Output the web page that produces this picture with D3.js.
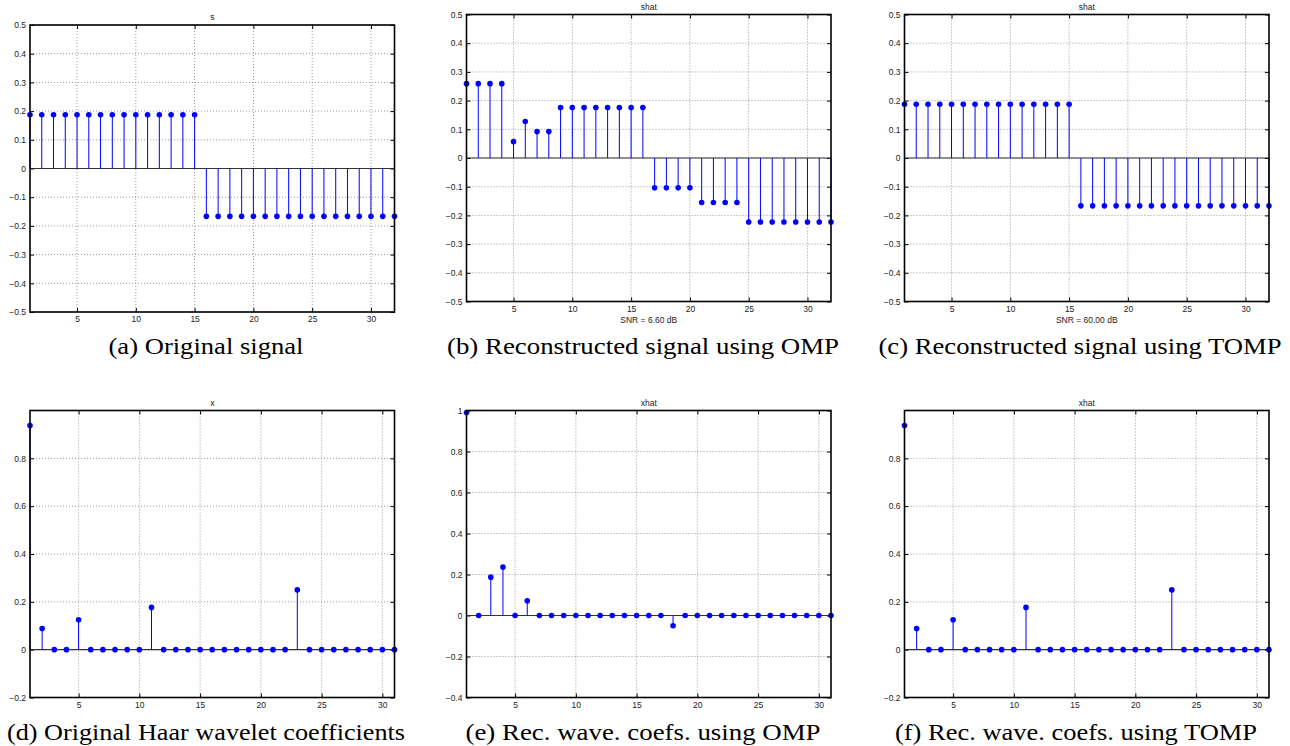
<!DOCTYPE html>
<html>
<head>
<meta charset="utf-8">
<script src="https://cdn.jsdelivr.net/npm/d3@7"></script>
<style>
  body { margin: 0; background: #fff; }
  svg { display: block; }
</style>
</head>
<body>
<div id="fig"></div>
<script>
// values
var sOrig = [0.1875, 0.1875, 0.1875, 0.1875, 0.1875, 0.1875, 0.1875, 0.1875, 0.1875, 0.1875, 0.1875, 0.1875, 0.1875, 0.1875, 0.1875,
    -0.1667, -0.1667, -0.1667, -0.1667, -0.1667, -0.1667, -0.1667, -0.1667, -0.1667, -0.1667, -0.1667, -0.1667, -0.1667, -0.1667, -0.1667, -0.1667, -0.1667];
var shatOMP = [0.259, 0.259, 0.259, 0.259, 0.057, 0.127, 0.092, 0.092,
    0.176, 0.176, 0.176, 0.176, 0.176, 0.176, 0.176, 0.176,
    -0.104, -0.104, -0.104, -0.104, -0.155, -0.155, -0.155, -0.155,
    -0.223, -0.223, -0.223, -0.223, -0.223, -0.223, -0.223, -0.223];
var shatTOMP = [0.1875, 0.1875, 0.1875, 0.1875, 0.1875, 0.1875, 0.1875, 0.1875, 0.1875, 0.1875, 0.1875, 0.1875, 0.1875, 0.1875, 0.1875,
    -0.1667, -0.1667, -0.1667, -0.1667, -0.1667, -0.1667, -0.1667, -0.1667, -0.1667, -0.1667, -0.1667, -0.1667, -0.1667, -0.1667, -0.1667, -0.1667, -0.1667];
var xOrig = [0.9375, 0.0884, 0, 0, 0.125, 0, 0, 0, 0, 0, 0.1768, 0, 0, 0, 0, 0, 0, 0, 0, 0, 0, 0,
    0.25, 0, 0, 0, 0, 0, 0, 0, 0];
var xhatOMP = [0.99, 0, 0.187, 0.236, 0, 0.0715, 0, 0, 0, 0, 0, 0, 0, 0, 0, 0, 0, -0.05,
    0, 0, 0, 0, 0, 0, 0, 0, 0, 0, 0, 0, 0];
var xhatTOMP = [0.9375, 0.0884, 0, 0, 0.125, 0, 0, 0, 0, 0, 0.1768, 0, 0, 0, 0, 0, 0, 0, 0, 0, 0, 0,
    0.25, 0, 0, 0, 0, 0, 0, 0, 0];

var xTicks = [5, 10, 15, 20, 25, 30];
var yTicksSignal = [-0.5, -0.4, -0.3, -0.2, -0.1, 0, 0.1, 0.2, 0.3, 0.4, 0.5];
var yTicksCoef = [-0.2, 0, 0.2, 0.4, 0.6, 0.8];
var yTicksCoefOMP = [-0.4, -0.2, 0, 0.2, 0.4, 0.6, 0.8, 1];

var titles = ["s", "shat", "shat", "x", "xhat", "xhat"];
var xlabels = ["", "SNR = 6.60 dB", "SNR = 60.00 dB", "", "", ""];
var captions = ["(a) Original signal", "(b) Reconstructed signal using OMP", "(c) Reconstructed signal using TOMP",
    "(d) Original Haar wavelet coefficients", "(e) Rec. wave. coefs. using OMP", "(f) Rec. wave. coefs. using TOMP"];

var panels = [
    {data: sOrig, xdom: [1, 32], ydom: [-0.5, 0.5], yticks: yTicksSignal, left: 30, top: 25, cx: 206, cy: 354, cw: 195},
    {data: shatOMP, xdom: [1, 32], ydom: [-0.5, 0.5], yticks: yTicksSignal, left: 466.5, top: 14.5, cx: 643, cy: 354, cw: 392},
    {data: shatTOMP, xdom: [1, 32], ydom: [-0.5, 0.5], yticks: yTicksSignal, left: 904.5, top: 14.5, cx: 1080, cy: 354, cw: 403},
    {data: xOrig, xdom: [1, 31], ydom: [-0.2, 1], yticks: yTicksCoef, left: 30, top: 410.5, cx: 206, cy: 740, cw: 398},
    {data: xhatOMP, xdom: [1, 31], ydom: [-0.4, 1], yticks: yTicksCoefOMP, left: 466.5, top: 410.5, cx: 643, cy: 740, cw: 355},
    {data: xhatTOMP, xdom: [1, 31], ydom: [-0.2, 1], yticks: yTicksCoef, left: 904.5, top: 410.5, cx: 1076, cy: 740, cw: 362}
];
var pw = 364.5, ph = 287;

var svg = d3.select("#fig").append("svg")
    .attr("width", 1290)
    .attr("height", 746);

var fmt = d3.format("~g");

panels.forEach(function (p, i) {
    var x = d3.scaleLinear().domain(p.xdom).range([0, pw]);
    var y = d3.scaleLinear().domain(p.ydom).range([ph, 0]);
    var g = svg.append("g").attr("transform", "translate(" + p.left + "," + p.top + ")");

    // dotted grid
    g.selectAll(".gx").data(xTicks).enter().append("line")
        .attr("x1", function (d) { return x(d); }).attr("x2", function (d) { return x(d); })
        .attr("y1", 0).attr("y2", ph)
        .style("stroke", "#909090").style("stroke-width", 0.9).style("stroke-dasharray", "1,2");
    g.selectAll(".gy").data(p.yticks).enter().append("line")
        .attr("y1", function (d) { return y(d); }).attr("y2", function (d) { return y(d); })
        .attr("x1", 0).attr("x2", pw)
        .style("stroke", "#909090").style("stroke-width", 0.9).style("stroke-dasharray", "1,2");

    // axes, ticks inside like matlab
    var axL = g.append("g").call(d3.axisLeft(y).tickValues(p.yticks).tickSizeInner(-4).tickSizeOuter(0).tickPadding(4).tickFormat(fmt));
    var axR = g.append("g").attr("transform", "translate(" + pw + ",0)")
        .call(d3.axisRight(y).tickValues(p.yticks).tickSizeInner(-4).tickSizeOuter(0).tickFormat(""));
    var axB = g.append("g").attr("transform", "translate(0," + ph + ")")
        .call(d3.axisBottom(x).tickValues(xTicks).tickSizeInner(-4).tickSizeOuter(0).tickPadding(4).tickFormat(fmt));
    var axT = g.append("g")
        .call(d3.axisTop(x).tickValues(xTicks).tickSizeInner(-4).tickSizeOuter(0).tickFormat(""));
    [axL, axR, axB, axT].forEach(function (a) {
        a.select(".domain").remove();
        a.selectAll("line").style("stroke", "#000");
        a.selectAll("text").style("font-family", "'Liberation Sans', Arial, sans-serif")
            .style("font-size", "8.5px").style("fill", "#222");
    });

    // stem baseline
    g.append("line")
        .attr("x1", x(p.xdom[0])).attr("x2", x(p.xdom[1]))
        .attr("y1", y(0)).attr("y2", y(0))
        .style("stroke", "#333").style("stroke-width", 1.2);

    // stems and markers
    g.selectAll(".stem").data(p.data).enter().append("line")
        .attr("x1", function (d, k) { return x(k + 1); })
        .attr("x2", function (d, k) { return x(k + 1); })
        .attr("y1", y(0))
        .attr("y2", function (d) { return y(d); })
        .style("stroke", "#0000ff").style("stroke-width", 1);
    g.selectAll(".dot").data(p.data).enter().append("circle")
        .attr("cx", function (d, k) { return x(k + 1); })
        .attr("cy", function (d) { return y(d); })
        .attr("r", 2.8)
        .style("fill", "#0000ff");

    // box
    g.append("rect").attr("width", pw).attr("height", ph)
        .style("fill", "none").style("stroke", "#000").style("stroke-width", 1.6);

    g.append("text")
        .attr("x", pw / 2).attr("y", -5)
        .attr("text-anchor", "middle")
        .style("font-family", "'Liberation Sans', Arial, sans-serif")
        .style("font-size", "8.5px").style("fill", "#222")
        .text(titles[i]);

    if (xlabels[i]) {
        g.append("text")
            .attr("x", pw / 2).attr("y", ph + 21)
            .attr("text-anchor", "middle")
            .style("font-family", "'Liberation Sans', Arial, sans-serif")
            .style("font-size", "8.5px").style("fill", "#222")
            .text(xlabels[i]);
    }

    // caption under each sub-figure
    svg.append("text")
        .attr("x", p.cx - p.cw / 2).attr("y", p.cy)
        .attr("textLength", p.cw)
        .attr("lengthAdjust", "spacingAndGlyphs")
        .style("font-family", "'Liberation Serif', 'DejaVu Serif', serif")
        .style("font-size", "23px").style("fill", "#000")
        .text(captions[i]);
});
</script>
</body>
</html>
